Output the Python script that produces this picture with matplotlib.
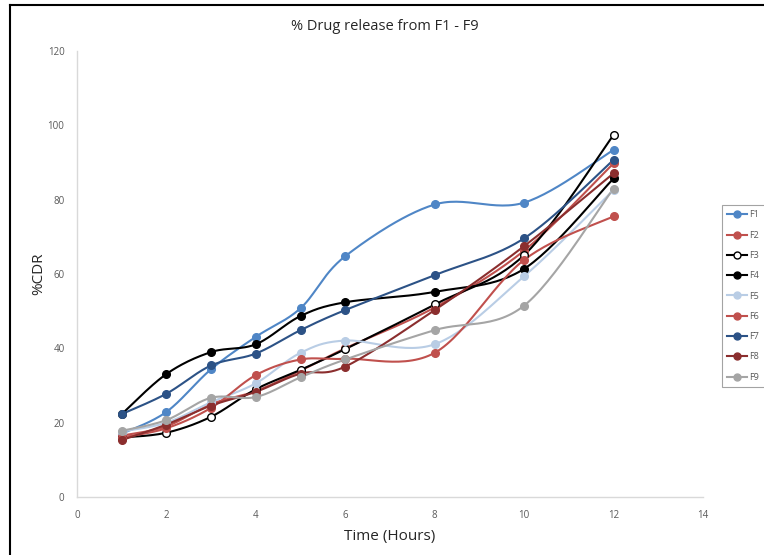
import numpy as np
import matplotlib
matplotlib.use("Agg")
import matplotlib.pyplot as plt
from matplotlib.lines import Line2D

plt.rcParams['font.family'] = ['Open Sans', 'DejaVu Sans']

hours = [1, 2, 3, 4, 5, 6, 8, 10, 12]
names = ["F1", "F2", "F3", "F4", "F5", "F6", "F7", "F8", "F9"]
F1 = [17.0, 22.9, 34.4, 43.1, 50.8, 64.8, 78.7, 79.2, 93.4]
F2 = [16.5, 19.0, 25.0, 28.5, 34.0, 40.0, 51.0, 66.3, 89.8]
F3 = [16.0, 17.3, 21.6, 29.0, 34.2, 39.8, 51.8, 65.1, 97.4]
F4 = [22.3, 33.1, 39.0, 41.1, 48.7, 52.4, 55.2, 61.4, 85.7]
F5 = [17.6, 20.0, 25.5, 30.6, 38.8, 42.1, 41.1, 59.4, 82.6]
F6 = [16.0, 18.5, 24.0, 32.8, 37.0, 37.2, 38.8, 63.8, 75.5]
F7 = [22.3, 27.8, 35.4, 38.6, 44.9, 50.3, 59.7, 69.6, 90.7]
F8 = [15.3, 19.5, 24.6, 28.3, 33.2, 35.1, 50.3, 67.5, 87.1]
F9 = [17.8, 20.7, 26.7, 26.9, 32.2, 37.0, 44.9, 51.5, 83.0]
series = [F1, F2, F3, F4, F5, F6, F7, F8, F9]

colors = ["#4f86c6", "#c0504d", "#000000", "#000000", "#b9cde5",
          "#c0504d", "#2c5286", "#8b2e2e", "#a5a5a5"]
faces = ["#4f86c6", "#c0504d", "white", "#000000", "#b9cde5",
         "#c0504d", "#2c5286", "#8b2e2e", "#a5a5a5"]


def smooth(x, y, n=30):
    # Excel-style smoothed line: cubic Bezier with Catmull-Rom control points
    x = np.asarray(x, float)
    y = np.asarray(y, float)
    P = np.column_stack([x, y])
    out = []
    for i in range(len(P) - 1):
        p0 = P[i - 1] if i > 0 else P[i]
        p1 = P[i]
        p2 = P[i + 1]
        p3 = P[i + 2] if i + 2 < len(P) else P[i + 1]
        c1 = p1 + (p2 - p0) / 6.0
        c2 = p2 - (p3 - p1) / 6.0
        t = np.linspace(0, 1, n)[:, None]
        seg = ((1 - t) ** 3) * p1 + 3 * ((1 - t) ** 2) * t * c1 + 3 * (1 - t) * t ** 2 * c2 + t ** 3 * p2
        out.append(seg if i == 0 else seg[1:])
    S = np.vstack(out)
    return S[:, 0], S[:, 1]


fig = plt.figure(figsize=(7.64, 5.55), dpi=100)
ax = fig.add_axes([77 / 764, 58 / 555, 626 / 764, 446 / 555])

for name, vals, c, fc in zip(names, series, colors, faces):
    sx, sy = smooth(hours, vals)
    ax.plot(sx, sy, color=c, lw=1.5, solid_capstyle='round', zorder=2)
    ax.plot(hours, vals, ls='none', marker='o', ms=5.5, mfc=fc, mec=c,
            mew=1.0, zorder=3)

ax.set_xlim(0, 14)
ax.set_ylim(0, 120)
ax.set_xticks(range(0, 15, 2))
ax.set_yticks(range(0, 121, 20))
ax.tick_params(axis='both', length=0, labelsize=7, labelcolor='#595959', pad=9)
for s in ['top', 'right']:
    ax.spines[s].set_visible(False)
for s in ['left', 'bottom']:
    ax.spines[s].set_color('#d9d9d9')
    ax.spines[s].set_linewidth(1.0)

ax.set_xlabel("Time (Hours)", fontsize=11, color='#262626', labelpad=6)
ax.set_ylabel("%CDR", fontsize=11, color='#262626', labelpad=1)
fig.text(385 / 764, 1 - 27 / 555, "% Drug release from F1 - F9", ha='center',
         va='center', fontsize=10.5, color='#262626')

handles = [Line2D([0], [0], color=c, lw=1.5, marker='o', ms=5, mfc=fc, mec=c)
           for c, fc in zip(colors, faces)]
leg = fig.legend(handles, names, loc='upper left',
                 bbox_to_anchor=(722 / 764, 1 - 205 / 555),
                 frameon=True, fontsize=6.5, labelcolor='#595959',
                 handlelength=2.2, handletextpad=0.25, labelspacing=1.25,
                 borderpad=0.6, fancybox=False, borderaxespad=0)
leg.get_frame().set_edgecolor('#8c8c8c')
leg.get_frame().set_linewidth(0.8)

# figure border (left and top visible)
fig.add_artist(Line2D([9.5 / 764, 9.5 / 764], [0, 1 - 5 / 555], color='black',
                      lw=1.5, transform=fig.transFigure))
fig.add_artist(Line2D([9.5 / 764, 1], [1 - 5 / 555, 1 - 5 / 555], color='black',
                      lw=1.5, transform=fig.transFigure))

fig.savefig("out.png", dpi=100)
